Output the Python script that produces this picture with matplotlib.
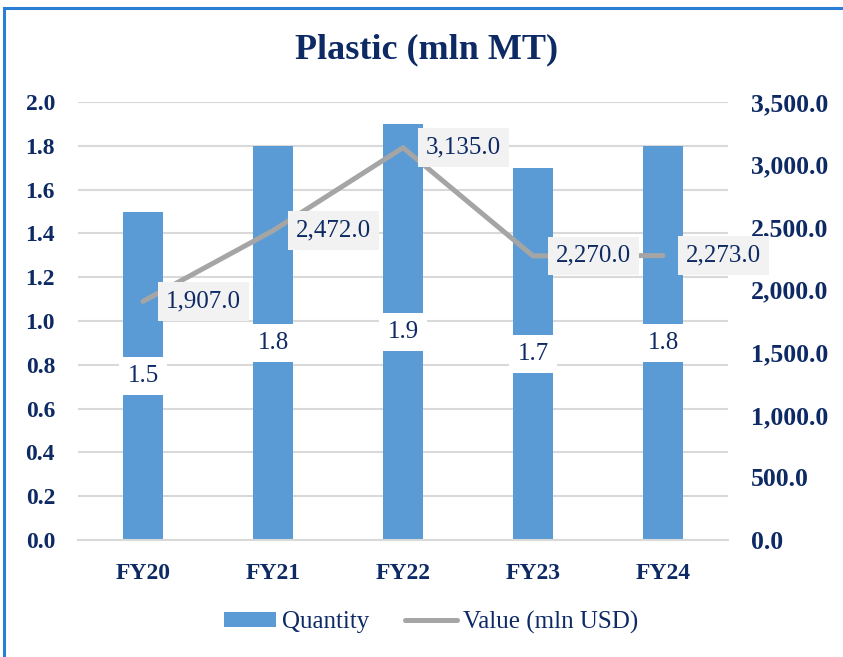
import matplotlib
matplotlib.use("Agg")
import matplotlib.pyplot as plt
from matplotlib.patches import Rectangle, Patch
from matplotlib.lines import Line2D
from matplotlib.ticker import FuncFormatter, MultipleLocator

categories = ["FY20", "FY21", "FY22", "FY23", "FY24"]
quantity = [1.5, 1.8, 1.9, 1.7, 1.8]
value_usd = [1907.0, 2472.0, 3135.0, 2270.0, 2273.0]
title = "Plastic (mln MT)"
legend_labels = ["Quantity", "Value (mln USD)"]

NAVY = "#0E2A64"
BAR = "#5B9BD5"
LINE = "#A5A5A5"
GRID = "#D9D9D9"
FONT = "Liberation Serif"

plt.rcParams["font.family"] = [FONT, "DejaVu Serif"]

fig = plt.figure(figsize=(8.43, 6.57), dpi=100)
W, H = 843, 657
ax = fig.add_axes([78 / W, 1 - 540 / H, 650 / W, 438 / H])
ax2 = ax.twinx()

x = list(range(len(categories)))
bars = ax.bar(x, quantity, width=0.315, color=BAR, zorder=2)
ax.set_xlim(-0.5, len(categories) - 0.5)
ax.set_ylim(0, 2.0)
ax.yaxis.set_major_locator(MultipleLocator(0.2))
ax.yaxis.set_major_formatter(FuncFormatter(lambda v, p: f"{v:.1f}"))
ax.grid(axis="y", color=GRID, linewidth=1.5, zorder=0)
ax.set_axisbelow(True)
ax.set_xticks(x)
ax.set_xticklabels(categories)

ax2.set_ylim(0, 3500)
ax2.yaxis.set_major_locator(MultipleLocator(500))
ax2.yaxis.set_major_formatter(FuncFormatter(lambda v, p: f"{v:,.1f}"))
ax2.plot(x, value_usd, color=LINE, linewidth=3.6, solid_capstyle="round",
         solid_joinstyle="round", zorder=3)

for a in (ax, ax2):
    for s in a.spines.values():
        s.set_visible(False)
    a.tick_params(length=0, colors=NAVY, labelsize=17, pad=16.5)
ax2.tick_params(labelsize=18.5)
for lab in ax.get_yticklabels() + ax.get_xticklabels() + ax2.get_yticklabels():
    lab.set_fontweight("bold")
    lab.set_color(NAVY)
ax.spines["bottom"].set_visible(True)
ax.spines["bottom"].set_color(GRID)
ax.spines["bottom"].set_linewidth(1.5)

for xi, q in zip(x, quantity):
    ax.text(xi, q / 2, f"{q:.1f}", ha="center", va="center", fontsize=18,
            color=NAVY, zorder=4,
            bbox=dict(boxstyle="square,pad=0.33", facecolor="white", edgecolor="none"))

for xi, v in zip(x, value_usd):
    ax2.annotate(f"{v:,.1f}", (xi, v), xytext=(23, 0), textcoords="offset pixels",
                 ha="left", va="center", fontsize=18, color=NAVY, zorder=5,
                 bbox=dict(boxstyle="square,pad=0.33", facecolor="#F2F2F2", edgecolor="none"))

fig.text(427 / W, 1 - 50 / H, title, ha="center", va="center", fontsize=26,
         fontweight="bold", color=NAVY)

handles = [Patch(facecolor=BAR, edgecolor="none"),
           Line2D([0], [0], color=LINE, linewidth=3.6, solid_capstyle="round")]
leg = fig.legend(handles, legend_labels, loc="center", bbox_to_anchor=(431 / W, 1 - 622 / H),
                 ncol=2, frameon=False, fontsize=18, handlelength=2.08, handleheight=0.55,
                 handletextpad=0.24, columnspacing=1.44)
for t in leg.get_texts():
    t.set_color(NAVY)

fig.patches.append(Rectangle((4 / W, -0.1), 1.2, 1 - 7.5 / H + 0.1, transform=fig.transFigure,
                             fill=False, edgecolor="#2A7FD4", linewidth=2.2))

fig.savefig("out.png", dpi=100)
